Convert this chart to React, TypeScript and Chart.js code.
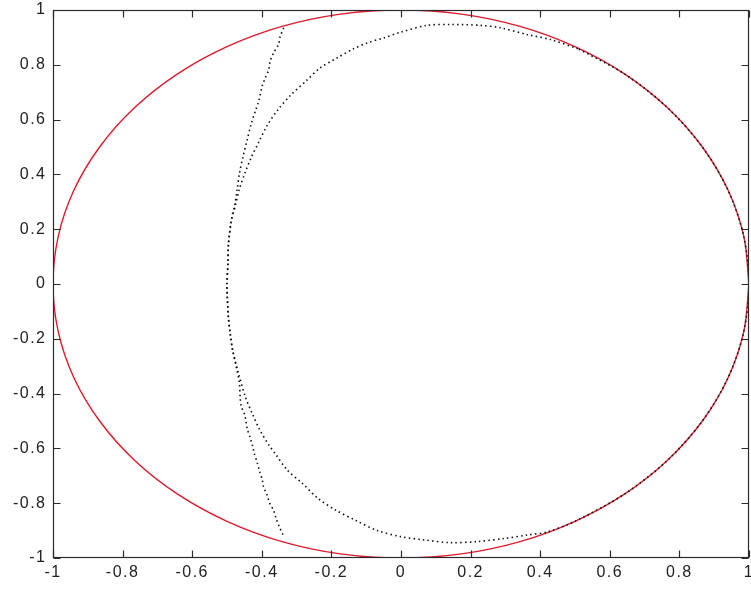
import React, { useEffect, useRef } from "react";
import { Chart, registerables } from "chart.js";

Chart.register(...registerables);

// Red unit circle
const circleX = [1, 0.985, 0.94, 0.866, 0.766, 0.643, 0.5, 0.342, 0.174, 0, -0.174, -0.342, -0.5, -0.643, -0.766, -0.866, -0.94, -0.985, -1, -0.985, -0.94, -0.866, -0.766, -0.643, -0.5, -0.342, -0.174, 0, 0.174, 0.342, 0.5, 0.643, 0.766, 0.866, 0.94, 0.985, 1];
const circleY = [0, 0.174, 0.342, 0.5, 0.643, 0.766, 0.866, 0.94, 0.985, 1, 0.985, 0.94, 0.866, 0.766, 0.643, 0.5, 0.342, 0.174, 0, -0.174, -0.342, -0.5, -0.643, -0.766, -0.866, -0.94, -0.985, -1, -0.985, -0.94, -0.866, -0.766, -0.643, -0.5, -0.342, -0.174, 0];

// Dotted curve A (large loop)
const loopX = [0.508, 0.43, 0.364, 0.286, 0.229, 0.142, 0.075, -0.001, -0.05, -0.097, -0.137, -0.184, -0.232, -0.272, -0.318, -0.353, -0.385, -0.409, -0.431, -0.449, -0.465, -0.476, -0.488, -0.496, -0.497, -0.5, -0.496, -0.491, -0.484, -0.467, -0.447, -0.428, -0.406, -0.378, -0.361, -0.327, -0.284, -0.239, -0.188, -0.128, -0.068, -0.001, 0.066, 0.142, 0.219, 0.296, 0.363, 0.42, 0.5, 0.643, 0.766, 0.866, 0.94, 0.985, 1, 0.985, 0.94, 0.866, 0.766, 0.643, 0.508];
const loopY = [0.859, 0.892, 0.91, 0.935, 0.944, 0.947, 0.944, 0.919, 0.898, 0.88, 0.858, 0.825, 0.789, 0.742, 0.688, 0.637, 0.578, 0.517, 0.46, 0.403, 0.344, 0.286, 0.228, 0.143, 0.082, -0.003, -0.121, -0.179, -0.24, -0.325, -0.413, -0.471, -0.532, -0.591, -0.62, -0.679, -0.727, -0.782, -0.825, -0.864, -0.9, -0.922, -0.934, -0.944, -0.94, -0.929, -0.916, -0.905, -0.866, -0.766, -0.643, -0.5, -0.342, -0.174, 0, 0.174, 0.342, 0.5, 0.643, 0.766, 0.859];

// Dotted curve B (steep arc)
const arcX = [-0.337, -0.347, -0.352, -0.366, -0.376, -0.38, -0.39, -0.399, -0.409, -0.417, -0.431, -0.443, -0.454, -0.464, -0.471, -0.478, -0.484, -0.491, -0.496, -0.497, -0.5, -0.496, -0.491, -0.484, -0.474, -0.465, -0.462, -0.459, -0.449, -0.445, -0.441, -0.433, -0.426, -0.421, -0.413, -0.406, -0.399, -0.395, -0.385, -0.378, -0.366, -0.358, -0.349, -0.339];
const arcY = [0.935, 0.904, 0.874, 0.844, 0.813, 0.783, 0.752, 0.722, 0.667, 0.637, 0.582, 0.521, 0.464, 0.405, 0.344, 0.286, 0.257, 0.201, 0.143, 0.082, -0.003, -0.121, -0.179, -0.24, -0.299, -0.356, -0.417, -0.447, -0.478, -0.506, -0.532, -0.563, -0.593, -0.621, -0.652, -0.685, -0.713, -0.74, -0.77, -0.798, -0.827, -0.859, -0.888, -0.916];

const tickValues = [-1, -0.8, -0.6, -0.4, -0.2, 0, 0.2, 0.4, 0.6, 0.8, 1];

const pts = (xs: number[], ys: number[]) => xs.map((x, i) => ({ x, y: ys[i] }));

const spacingPlugin = {
  id: "labelSpacing",
  beforeDraw(chart: any) {
    try {
      (chart.ctx as any).letterSpacing = "1.5px";
    } catch (e) {}
  },
  afterDraw(chart: any) {
    try {
      (chart.ctx as any).letterSpacing = "0px";
    } catch (e) {}
  },
};

const boxPlugin = {
  id: "matlabBox",
  afterDatasetsDraw(chart: any) {
    const { ctx, chartArea } = chart;
    const { left, right, top, bottom } = chartArea;
    const xs = chart.scales.x;
    const ys = chart.scales.y;
    ctx.save();
    ctx.strokeStyle = "#2b2b2b";
    ctx.lineWidth = 1.2;
    const L = Math.round(left) + 0.5;
    const R = Math.round(right) - 0.5;
    const T = Math.round(top) + 0.5;
    const B = Math.round(bottom) - 0.5;
    ctx.strokeRect(L, T, R - L, B - T);
    const len = 7;
    ctx.beginPath();
    xs.ticks.forEach((t: any) => {
      const p = Math.round(xs.getPixelForValue(t.value)) + 0.5;
      ctx.moveTo(p, B);
      ctx.lineTo(p, B - len);
      ctx.moveTo(p, T);
      ctx.lineTo(p, T + len);
    });
    ys.ticks.forEach((t: any) => {
      const p = Math.round(ys.getPixelForValue(t.value)) + 0.5;
      ctx.moveTo(L, p);
      ctx.lineTo(L + len, p);
      ctx.moveTo(R, p);
      ctx.lineTo(R - len, p);
    });
    ctx.stroke();
    ctx.restore();
  },
};

export default function App() {
  const ref = useRef<HTMLCanvasElement>(null);

  useEffect(() => {
    document.body.style.margin = "0";
    const canvas = ref.current;
    if (!canvas) return;
    const fmt = (v: any) => String(Math.round(Number(v) * 10) / 10);
    const font = { family: "'Liberation Sans', Arial, sans-serif", size: 16 };
    const chart = new Chart(canvas, {
      type: "scatter",
      data: {
        datasets: [
          {
            data: pts(loopX, loopY),
            showLine: true,
            borderColor: "#111",
            borderWidth: 1.6,
            borderDash: [1.5, 3.2],
            pointRadius: 0,
            tension: 0.3,
            fill: false,
          },
          {
            data: pts(arcX, arcY),
            showLine: true,
            borderColor: "#111",
            borderWidth: 1.6,
            borderDash: [1.5, 3.2],
            pointRadius: 0,
            tension: 0.3,
            fill: false,
          },
          {
            data: pts(circleX, circleY),
            showLine: true,
            borderColor: "#dc1a2c",
            borderWidth: 1.4,
            pointRadius: 0,
            tension: 0.35,
            fill: false,
          },
        ],
      },
      options: {
        responsive: false,
        animation: false,
        layout: { padding: { top: 10, right: 2, left: 0, bottom: 0 } },
        plugins: { legend: { display: false }, tooltip: { enabled: false } },
        scales: {
          x: {
            type: "linear",
            min: -1,
            max: 1,
            afterBuildTicks: (s: any) => {
              s.ticks = tickValues.map((v) => ({ value: v }));
            },
            afterFit: (s: any) => {
              s.height = 34;
              s.paddingLeft = 0;
              s.paddingRight = 0;
            },
            grid: { display: false, drawTicks: false },
            border: { display: false },
            ticks: { padding: 5, color: "#222", font, callback: fmt, maxRotation: 0, autoSkip: false },
          },
          y: {
            type: "linear",
            min: -1,
            max: 1,
            afterBuildTicks: (s: any) => {
              s.ticks = tickValues.map((v) => ({ value: v }));
            },
            afterFit: (s: any) => {
              s.width = 53;
              s.paddingTop = 0;
              s.paddingBottom = 0;
            },
            grid: { display: false, drawTicks: false },
            border: { display: false },
            ticks: { padding: 6.5, color: "#222", font, callback: fmt, autoSkip: false },
          },
        },
      },
      plugins: [spacingPlugin, boxPlugin],
    });
    return () => chart.destroy();
  }, []);

  return (
    <div style={{ position: "absolute", left: 0, top: 0, width: 751, height: 592, background: "#fff" }}>
      <canvas ref={ref} width={751} height={592} style={{ display: "block" }} />
    </div>
  );
}
